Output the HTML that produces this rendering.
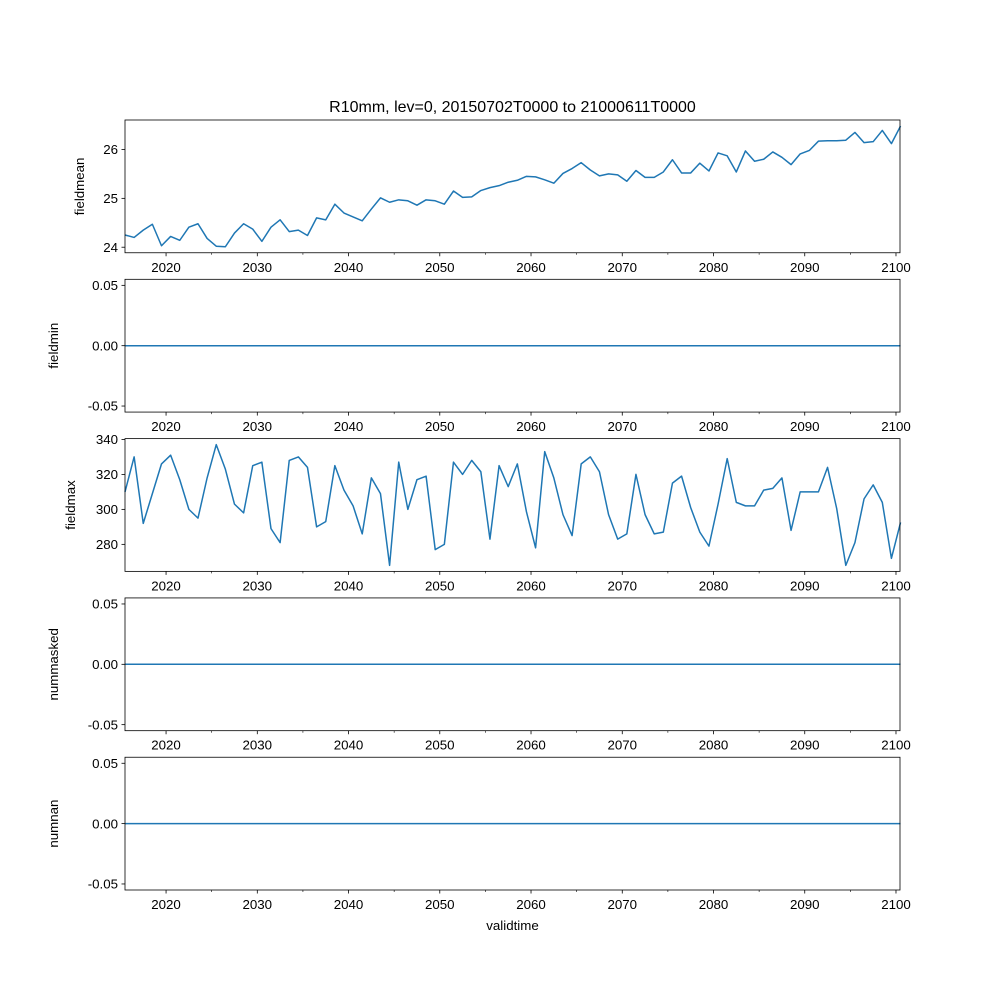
<!DOCTYPE html>
<html><head><meta charset="utf-8"><style>
body{margin:0;background:#fff;}
svg{display:block;font-family:"Liberation Sans","DejaVu Sans",sans-serif;}
</style></head><body>
<svg id="fig" width="1000" height="1000" viewBox="0 0 1000 1000" xmlns="http://www.w3.org/2000/svg">
<rect width="1000" height="1000" fill="#fff"/>
<text x="512.5" y="112" font-size="16" text-anchor="middle">R10mm, lev=0, 20150702T0000 to 21000611T0000</text>
<text x="512.5" y="930" font-size="13.3" text-anchor="middle">validtime</text>
</svg>
<script>
const startYear = 2015.5;
const fieldmeanValues = [24.25,24.2,24.35,24.47,24.03,24.22,24.14,24.41,24.48,24.18,24.02,24.01,24.29,24.48,24.37,24.12,24.41,24.56,24.32,24.35,24.24,24.6,24.56,24.88,24.7,24.62,24.54,24.78,25.01,24.92,24.97,24.95,24.86,24.97,24.95,24.88,25.15,25.02,25.03,25.16,25.22,25.26,25.33,25.37,25.45,25.44,25.38,25.31,25.51,25.61,25.73,25.58,25.46,25.5,25.48,25.35,25.57,25.43,25.43,25.54,25.79,25.52,25.52,25.72,25.56,25.93,25.87,25.54,25.97,25.76,25.8,25.95,25.84,25.69,25.91,25.98,26.17,26.18,26.18,26.19,26.35,26.14,26.16,26.39,26.12,26.48];
const fieldmaxValues = [310,330,292,309,326,331,317,300,295,318,337,323,303,298,325,327,289,281,328,330,324,290,293,325,311,302,286,318,309,268,327,300,317,319,277,280,327,320,328,321.5,283,325,313,326,298.6,278,333,318,297,285,326,330,321.5,297,283,286,320,297,286,287,315,319,301,287,279,303,329,304,302,302,311,312,318,288,310,310,310,324,300.5,268,281,306,314,304,272,292.5];
const fieldminValues = fieldmeanValues.map(()=>0);
const nummaskedValues = fieldmeanValues.map(()=>0);
const numnanValues = fieldmeanValues.map(()=>0);
const xMajorTicks = [2020,2030,2040,2050,2060,2070,2080,2090,2100];
const xMinorTicks = [2025,2035,2045,2055,2065,2075,2085,2095];
const panelNames = ["fieldmean","fieldmin","fieldmax","nummasked","numnan"];
const yTicksMean = [24,25,26];
const yTicksMax = [280,300,320,340];
const yTicksFlat = [-0.05,0,0.05];

const NS="http://www.w3.org/2000/svg";
const svg=document.getElementById('fig');
const L=125,R=900,TOP=120,H=132.76,GAP=26.55;
const xMin=2015.5,xMax=2100.44;
function xs(v){return L+(v-xMin)/(xMax-xMin)*(R-L);}
function mk(tag,attrs,parent){const e=document.createElementNS(NS,tag);for(const k in attrs)e.setAttribute(k,attrs[k]);(parent||svg).appendChild(e);return e;}

const series=[fieldmeanValues,fieldminValues,fieldmaxValues,nummaskedValues,numnanValues];
const ticksets=[yTicksMean,yTicksFlat,yTicksMax,yTicksFlat,yTicksFlat];
const labelX=[84,58,75,58,58];

series.forEach((vals,p)=>{
  const top=TOP+p*(H+GAP),bot=top+H;
  const g=mk('g',{});
  
  
  let mn=Math.min(...vals),mx=Math.max(...vals);
  let lo,hi;
  if(mx===mn){lo=mn-0.055;hi=mn+0.055;}else{const m=(mx-mn)*0.05;lo=mn-m;hi=mx+m;}
  const ys=v=>bot-(v-lo)/(hi-lo)*H;
  const fmt=v=>p===0||p===2?String(v):v.toFixed(2);
  // line
  let d='';
  vals.forEach((v,i)=>{d+=(i?'L':'M')+xs(startYear+i).toFixed(2)+','+ys(v).toFixed(2);});
  const line=mk('path',{d:d,fill:'none',stroke:'#1f77b4','stroke-width':1.5,'stroke-linejoin':'round'},g);
  
  
  // frame
  const fr=mk('rect',{x:L,y:top,width:R-L,height:H,fill:'none',stroke:'#000','stroke-width':0.8},g);
  
  
  // y ticks
  ticksets[p].forEach(t=>{
    const y=ys(t);
    mk('line',{x1:L-3.5,x2:L,y1:y,y2:y,stroke:'#000','stroke-width':0.8},g);
    const tl=mk('text',{x:L-7,y:y+4.7,'font-size':13.3,'text-anchor':'end'},g);
    tl.textContent=fmt(t);
    
    
  });
  // x ticks
  xMajorTicks.forEach(t=>{
    const x=xs(t);
    mk('line',{x1:x,x2:x,y1:bot,y2:bot+3.5,stroke:'#000','stroke-width':0.8},g);
    const tl=mk('text',{x:x,y:bot+19,'font-size':13.3,'text-anchor':'middle'},g);
    tl.textContent=String(t);
    
    
  });
  xMinorTicks.forEach(t=>{
    const x=xs(t);
    mk('line',{x1:x,x2:x,y1:bot,y2:bot+2,stroke:'#000','stroke-width':0.6},g);
  });
  const yl=mk('text',{x:0,y:0,'font-size':13.3,'text-anchor':'middle',transform:`translate(${labelX[p]},${top+H/2}) rotate(-90)`},g);
  yl.textContent=panelNames[p];
  
  
});
</script>
</body></html>
